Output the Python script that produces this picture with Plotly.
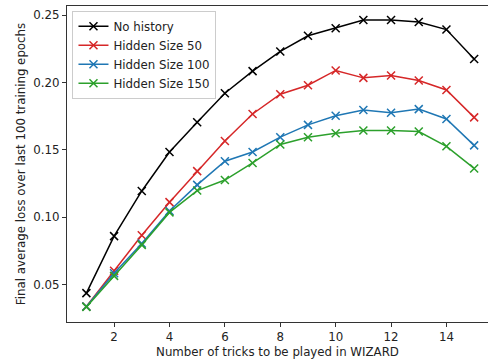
import plotly.graph_objects as go

tricks = list(range(1, 16))
no_history = [0.0437, 0.0860, 0.1195, 0.1484, 0.1704, 0.1920, 0.2084, 0.2230,
              0.2346, 0.2402, 0.2463, 0.2463, 0.2449, 0.2392, 0.2174]
hidden_50 = [0.0338, 0.0603, 0.0867, 0.1112, 0.1342, 0.1565, 0.1766, 0.1913,
             0.1979, 0.2089, 0.2034, 0.2052, 0.2015, 0.1944, 0.1741]
hidden_100 = [0.0338, 0.0585, 0.0805, 0.1046, 0.1240, 0.1416, 0.1484, 0.1594,
              0.1685, 0.1753, 0.1795, 0.1775, 0.1802, 0.1729, 0.1533]
hidden_150 = [0.0335, 0.0565, 0.0795, 0.1036, 0.1198, 0.1276, 0.1403, 0.1540,
              0.1594, 0.1623, 0.1643, 0.1643, 0.1636, 0.1526, 0.1362]

series = [
    ("No history", no_history, "#000000"),
    ("Hidden Size 50", hidden_50, "#d62728"),
    ("Hidden Size 100", hidden_100, "#1f77b4"),
    ("Hidden Size 150", hidden_150, "#2ca02c"),
]

fig = go.Figure()
for name, vals, color in series:
    fig.add_trace(go.Scatter(
        x=tricks, y=vals, name=name, mode="lines+markers",
        line=dict(color=color, width=1.5),
        marker=dict(symbol="x-thin-open", size=8, line=dict(color=color, width=1.5)),
    ))

font = "DejaVu Sans"
fs = 11.8
fig.update_layout(
    width=488, height=364,
    margin=dict(l=67, r=0, t=6, b=42),
    paper_bgcolor="white", plot_bgcolor="white",
    font=dict(family=font, size=fs, color="#222222"),
    showlegend=True,
    legend=dict(x=0.013, y=0.985, xanchor="left", yanchor="top",
                bgcolor="rgba(255,255,255,0.8)", bordercolor="#cccccc", borderwidth=1,
                font=dict(family=font, size=fs, color="#222222"), tracegroupgap=0, itemwidth=30),
    xaxis=dict(range=[0.3, 15.5], tickvals=[2, 4, 6, 8, 10, 12, 14],
               automargin=False, tickfont=dict(size=fs, color="#222222"),
               showgrid=False, zeroline=False, showline=True, linecolor="#333333",
               linewidth=1, mirror=True, ticks="outside", ticklen=4, tickcolor="#333333",
               title=dict(text="Number of tricks to be played in WIZARD", standoff=4,
                          font=dict(size=fs, color="#222222"))),
    yaxis=dict(range=[0.0223, 0.2567], tickvals=[0.05, 0.10, 0.15, 0.20, 0.25],
               tickformat=".2f", automargin=False, tickfont=dict(size=fs, color="#222222"),
               showgrid=False, zeroline=False, showline=True, linecolor="#333333",
               linewidth=1, mirror=False, ticks="outside", ticklen=4, tickcolor="#333333",
               title=dict(text="Final average loss over last 100 training epochs",
                          standoff=5, font=dict(size=fs, color="#222222"))),
)

fig.write_html("out.html", config={"displayModeBar": False},
               post_script="document.body.style.margin='0';")
